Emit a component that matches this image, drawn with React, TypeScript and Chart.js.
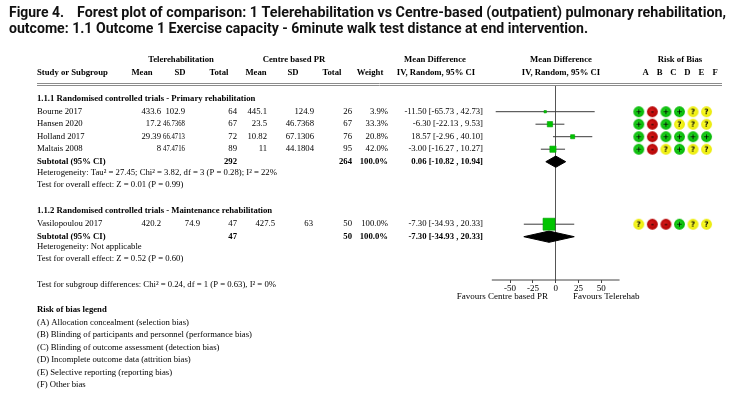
import React, { useEffect, useRef } from 'react';
import { Chart, registerables } from 'chart.js';

Chart.register(...registerables);

const W = 733;
const H = 394;

// ---------------- data ----------------
const studies = ['Bourne 2017', 'Hansen 2020', 'Holland 2017', 'Maltais 2008', 'Vasilopoulou 2017'];
const studyRows = [1, 2, 3, 4, 10];
const teleMean = [433.6, 17.2, 29.39, 8, 420.2];
const teleSD = [102.9, 46.7368, 66.4713, 47.4716, 74.9];
const teleTotal = [64, 67, 72, 89, 47];
const centreMean = [445.1, 23.5, 10.82, 11, 427.5];
const centreSD = [124.9, 46.7368, 67.1306, 44.1804, 63];
const centreTotal = [26, 67, 76, 95, 50];
const weights = [3.9, 33.3, 20.8, 42.0, 100.0];
const meanDiff = [-11.5, -6.3, 18.57, -3.0, -7.3];
const ciLow = [-65.73, -22.13, -2.96, -16.27, -34.93];
const ciHigh = [42.73, 9.53, 40.1, 10.27, 20.33];
const riskOfBias = ['+-++??', '+-+???', '+-++++', '+-?+??', '?--+??'];

const subtotalRows = [5, 11];
const subtotalTele = [292, 47];
const subtotalCentre = [264, 50];
const subtotalWeight = [100.0, 100.0];
const subtotalMD = [0.06, -7.3];
const subtotalLow = [-10.82, -34.93];
const subtotalHigh = [10.94, 20.33];

const subgroupTitles = [
  '1.1.1 Randomised controlled trials - Primary rehabilitation',
  '1.1.2 Randomised controlled trials - Maintenance rehabilitation',
];
const notes = [
  'Heterogeneity: Tau\u00B2 = 27.45; Chi\u00B2 = 3.82, df = 3 (P = 0.28); I\u00B2 = 22%',
  'Test for overall effect: Z = 0.01 (P = 0.99)',
  'Heterogeneity: Not applicable',
  'Test for overall effect: Z = 0.52 (P = 0.60)',
  'Test for subgroup differences: Chi\u00B2 = 0.24, df = 1 (P = 0.63), I\u00B2 = 0%',
];
const legendTitle = 'Risk of bias legend';
const legendItems = [
  '(A) Allocation concealment (selection bias)',
  '(B) Blinding of participants and personnel (performance bias)',
  '(C) Blinding of outcome assessment (detection bias)',
  '(D) Incomplete outcome data (attrition bias)',
  '(E) Selective reporting (reporting bias)',
  '(F) Other bias',
];
const robLetters = ['A', 'B', 'C', 'D', 'E', 'F'];
const xTicks = [-50, -25, 0, 25, 50];
const AXIS_MIN = -70;
const AXIS_MAX = 70;
const titleLine1a = 'Figure 4.';
const titleLine1b = 'Forest plot of comparison: 1 Telerehabilitation vs Centre-based (outpatient) pulmonary rehabilitation,';
const titleLine2 = 'outcome: 1.1 Outcome 1 Exercise capacity - 6minute walk test distance at end intervention.';
const favoursLeft = 'Favours Centre based PR';
const favoursRight = 'Favours Telerehab';

// ---------------- layout ----------------
const PLOT_L = 495;
const PLOT_R = 626;
const AREA_TOP = 85;
const AREA_BOTTOM = 280;
const XAXIS_H = 20;
const ROW0 = 99.2;
const PITCH = 12.5;
const ROB_X0 = 645.7;
const ROB_DX = 13.9;
const DIAMOND_H = 0.45;

const pxPerUnit = (PLOT_R - PLOT_L) / (AXIS_MAX - AXIS_MIN);
const X_MIN = AXIS_MIN - PLOT_L / pxPerUnit;
const X_MAX = AXIS_MAX + (W - PLOT_R) / pxPerUnit;
const Y_MIN = (AREA_TOP - ROW0) / PITCH;
const Y_MAX = (AREA_BOTTOM - ROW0) / PITCH;
const ROB_MIN = -ROB_X0 / ROB_DX;
const ROB_MAX = (W - ROB_X0) / ROB_DX;

const COL: Record<string, number> = {
  teleMean: 161, teleSD: 185, teleTotal: 237,
  cMean: 267, cSD: 314, cTotal: 352, weight: 388, ci: 483,
};
const COL_MAXW: Record<string, number> = { teleSD: 22 };
const SHIFT: Record<string, number> = { '4:teleSD': 15, '4:cMean': 8, '4:cSD': -1 };

const SERIF = '"Liberation Serif", "Times New Roman", serif';
const FS = 8.7;

const fmtCI = (m: number, l: number, h: number) =>
  `${m.toFixed(2)} [${l.toFixed(2)} , ${h.toFixed(2)}]`;

function makeRobIcon(sym: string): HTMLCanvasElement {
  const c = document.createElement('canvas');
  c.width = 13;
  c.height = 13;
  const g = c.getContext('2d')!;
  const base = sym === '+' ? ['#22d022', '#00b400'] : sym === '-' ? ['#d01818', '#b00000'] : ['#ffff30', '#e6e600'];
  const grad = g.createRadialGradient(5.5, 5.5, 1, 6.5, 6.5, 6);
  grad.addColorStop(0, base[0]);
  grad.addColorStop(1, base[1]);
  g.beginPath();
  g.arc(6.5, 6.5, 5.4, 0, Math.PI * 2);
  g.fillStyle = grad;
  g.fill();
  g.fillStyle = '#000';
  g.font = 'bold 7.5px "DejaVu Sans", sans-serif';
  g.textAlign = 'center';
  g.textBaseline = 'middle';
  g.fillText(sym, 6.5, 7);
  return c;
}

const textPlugin = {
  id: 'forestText',
  afterDraw(chart: any) {
    const g: CanvasRenderingContext2D = chart.ctx;
    const ys = chart.scales.y;
    const Y = (r: number) => ys.getPixelForValue(r);
    const reg = `${FS}px ${SERIF}`;
    const bold = `bold ${FS}px ${SERIF}`;
    g.save();
    g.fillStyle = '#000';
    g.textBaseline = 'middle';
    const put = (t: string, x: number, y: number, align: CanvasTextAlign, font: string) => {
      g.font = font;
      g.textAlign = align;
      g.fillText(t, x, y);
    };
    const putRightMax = (t: string, xr: number, y: number, font: string, maxW: number) => {
      g.font = font;
      g.textAlign = 'left';
      const m = g.measureText(t).width;
      const w = Math.min(m, maxW);
      g.save();
      g.translate(xr - w, y);
      g.scale(w / m, 1);
      g.fillText(t, 0, 0);
      g.restore();
    };
    const fit = (t: string, x: number, y: number, w: number) => {
      g.textAlign = 'left';
      const m = g.measureText(t).width;
      g.save();
      g.translate(x, y);
      g.scale(w / m, 1);
      g.fillText(t, 0, 0);
      g.restore();
    };

    // title
    g.fillStyle = '#111';
    g.font = 'bold 15px "Liberation Sans Narrow", "Roboto", "DejaVu Sans", sans-serif';
    fit(titleLine1a, 9, 13, 55);
    fit(titleLine1b, 77, 13, 649);
    fit(titleLine2, 9, 29, 579);
    g.fillStyle = '#000';

    // headers
    put('Telerehabilitation', 181, 60, 'center', bold);
    put('Centre based PR', 294, 60, 'center', bold);
    put('Mean Difference', 435, 60, 'center', bold);
    put('Mean Difference', 561, 60, 'center', bold);
    put('Risk of Bias', 680, 60, 'center', bold);
    put('Study or Subgroup', 37, 73, 'left', bold);
    put('Mean', 142, 73, 'center', bold);
    put('SD', 180, 73, 'center', bold);
    put('Total', 219, 73, 'center', bold);
    put('Mean', 256, 73, 'center', bold);
    put('SD', 293, 73, 'center', bold);
    put('Total', 332, 73, 'center', bold);
    put('Weight', 370, 73, 'center', bold);
    put('IV, Random, 95% CI', 436, 73, 'center', bold);
    put('IV, Random, 95% CI', 561, 73, 'center', bold);
    robLetters.forEach((l, j) => put(l, ROB_X0 + j * ROB_DX, 73, 'center', bold));

    // header rule
    g.strokeStyle = '#8c8c8c';
    g.lineWidth = 1;
    [83.5, 85.5].forEach((yy) => {
      g.beginPath();
      g.moveTo(37, yy);
      g.lineTo(722, yy);
      g.stroke();
    });

    // subgroup titles
    put(subgroupTitles[0], 37, 98.5, 'left', bold);
    put(subgroupTitles[1], 37, 210.5, 'left', bold);

    // study rows
    studies.forEach((s, i) => {
      const y = Y(studyRows[i]);
      const cell = (k: string, t: string) => {
        const xr = COL[k] + (SHIFT[`${i}:${k}`] || 0);
        putRightMax(t, xr, y, reg, COL_MAXW[k] || 999);
      };
      put(s, 37, y, 'left', reg);
      cell('teleMean', String(teleMean[i]));
      cell('teleSD', String(teleSD[i]));
      cell('teleTotal', String(teleTotal[i]));
      cell('cMean', String(centreMean[i]));
      cell('cSD', String(centreSD[i]));
      cell('cTotal', String(centreTotal[i]));
      cell('weight', `${weights[i].toFixed(1)}%`);
      cell('ci', fmtCI(meanDiff[i], ciLow[i], ciHigh[i]));
    });

    // subtotal rows
    subtotalRows.forEach((r, k) => {
      const y = Y(r);
      put('Subtotal (95% CI)', 37, y, 'left', bold);
      put(String(subtotalTele[k]), COL.teleTotal, y, 'right', bold);
      put(String(subtotalCentre[k]), COL.cTotal, y, 'right', bold);
      put(`${subtotalWeight[k].toFixed(1)}%`, COL.weight, y, 'right', bold);
      put(fmtCI(subtotalMD[k], subtotalLow[k], subtotalHigh[k]), COL.ci, y, 'right', bold);
    });

    // notes
    const noteY = [173, 184.5, 247, 258.5, 285];
    notes.forEach((n, i) => put(n, 37, noteY[i], 'left', reg));

    // legend
    put(legendTitle, 37, 310, 'left', bold);
    legendItems.forEach((t, i) => put(t, 37, 322.5 + i * 12.5, 'left', reg));

    // favours
    put(favoursLeft, 548, 297, 'right', `9px ${SERIF}`);
    put(favoursRight, 573, 297, 'left', `9px ${SERIF}`);

    g.restore();
  },
};

export default function App() {
  const ref = useRef<HTMLCanvasElement | null>(null);

  useEffect(() => {
    const canvas = ref.current!;
    const icons: Record<string, HTMLCanvasElement> = {
      '+': makeRobIcon('+'),
      '-': makeRobIcon('-'),
      '?': makeRobIcon('?'),
    };

    const datasets: any[] = [];

    // squares
    datasets.push({
      label: 'studies',
      data: studies.map((_, i) => ({ x: meanDiff[i], y: studyRows[i] })),
      pointStyle: 'rect',
      pointRadius: (c: any) => (2 + 0.1 * weights[c.dataIndex]) / Math.SQRT2,
      backgroundColor: '#00c400',
      borderColor: '#00a000',
      borderWidth: 0.6,
      showLine: false,
      order: 1,
    });

    // CI lines
    studies.forEach((_, i) => {
      datasets.push({
        label: 'ci' + i,
        data: [
          { x: ciLow[i], y: studyRows[i] },
          { x: ciHigh[i], y: studyRows[i] },
        ],
        showLine: true,
        borderColor: '#3a3a3a',
        borderWidth: 1,
        pointRadius: 0,
        order: 2,
      });
    });

    // diamonds
    subtotalRows.forEach((r, k) => {
      datasets.push({
        label: 'diamond' + k,
        data: [
          { x: subtotalLow[k], y: r },
          { x: subtotalMD[k], y: r - DIAMOND_H },
          { x: subtotalHigh[k], y: r },
          { x: subtotalMD[k], y: r + DIAMOND_H },
          { x: subtotalLow[k], y: r },
        ],
        showLine: true,
        fill: 'shape',
        backgroundColor: '#000',
        borderColor: '#000',
        borderWidth: 1,
        pointRadius: 0,
        tension: 0,
        order: 1,
      });
    });

    // axis line
    datasets.push({
      label: 'axis',
      data: [
        { x: AXIS_MIN, y: Y_MAX },
        { x: AXIS_MAX, y: Y_MAX },
      ],
      showLine: true,
      borderColor: '#444',
      borderWidth: 1,
      pointRadius: 0,
      clip: false,
      order: 3,
    });

    // risk of bias
    const robData: any[] = [];
    riskOfBias.forEach((s, i) => {
      s.split('').forEach((sym, j) => robData.push({ x: j, y: studyRows[i], s: sym }));
    });
    datasets.push({
      label: 'rob',
      xAxisID: 'rob',
      data: robData,
      pointStyle: (c: any) => icons[c.raw.s],
      pointRadius: 6,
      showLine: false,
      order: 0,
    });

    const chart = new Chart(canvas, {
      type: 'scatter',
      data: { datasets },
      options: {
        animation: false,
        responsive: false,
        devicePixelRatio: 1,
        events: [],
        layout: { padding: { top: AREA_TOP, bottom: H - AREA_BOTTOM - XAXIS_H, left: 0, right: 0 } },
        plugins: { legend: { display: false }, tooltip: { enabled: false } },
        scales: {
          x: {
            type: 'linear',
            min: X_MIN,
            max: X_MAX,
            border: { display: false },
            grid: {
              color: (c: any) => (c.tick && c.tick.value === 0 ? '#555' : 'rgba(0,0,0,0)'),
              lineWidth: 1,
              drawTicks: true,
              tickLength: 3,
              tickColor: '#444',
            },
            ticks: {
              font: { family: SERIF, size: 9 },
              color: '#000',
              padding: 0,
              autoSkip: false,
              maxRotation: 0,
            },
            afterBuildTicks: (s: any) => {
              s.ticks = xTicks.map((v) => ({ value: v }));
            },
            afterFit: (s: any) => {
              s.height = XAXIS_H;
            },
          },
          rob: {
            type: 'linear',
            axis: 'x',
            display: false,
            min: ROB_MIN,
            max: ROB_MAX,
          },
          y: {
            type: 'linear',
            display: false,
            reverse: true,
            min: Y_MIN,
            max: Y_MAX,
          },
        },
      } as any,
      plugins: [textPlugin],
    });
    return () => chart.destroy();
  }, []);

  return (
    <div style={{ position: 'fixed', left: 0, top: 0, width: W, height: H, background: '#fff' }}>
      <canvas ref={ref} width={W} height={H} style={{ display: 'block', width: W, height: H }} />
    </div>
  );
}
